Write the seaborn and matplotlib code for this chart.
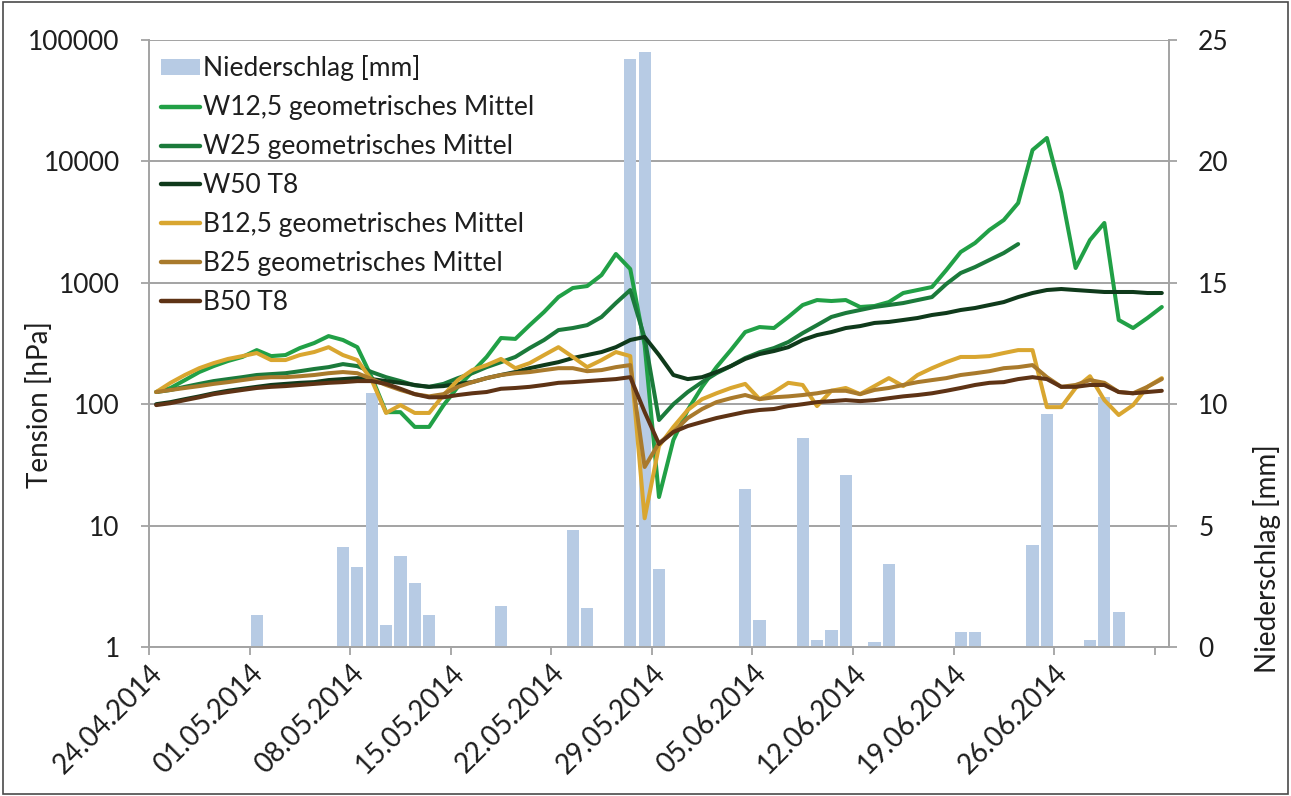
import datetime as dt

import matplotlib
matplotlib.use("Agg")
import matplotlib.pyplot as plt
import numpy as np
import pandas as pd
import seaborn as sns
from matplotlib.lines import Line2D
from matplotlib.patches import Patch, Rectangle
from matplotlib.ticker import FixedLocator, FixedFormatter, NullLocator

# ---------------------------------------------------------------------------
# Daily series, 24.04.2014 - 04.07.2014
# ---------------------------------------------------------------------------
start = dt.date(2014, 4, 24)
dates = [start + dt.timedelta(days=i) for i in range(71)]

# daily precipitation [mm]
niederschlag = [0, 0, 0, 0, 0, 0, 0, 1.3, 0.05, 0,
                0, 0, 0.05, 4.1, 3.3, 10.45, 0.9, 3.75, 2.65, 1.3,
                0.05, 0, 0, 0, 1.7, 0, 0, 0, 0, 4.8,
                1.6, 0, 0, 24.2, 24.5, 3.2, 0, 0, 0, 0,
                0, 6.5, 1.1, 0, 0, 8.6, 0.3, 0.7, 7.1, 0,
                0.2, 3.4, 0, 0, 0, 0, 0.6, 0.6, 0, 0,
                0, 4.2, 9.6, 0, 0.05, 0.3, 10.3, 1.45, 0, 0,
                0]

# soil water tension [hPa]
w12_5 = [126, 136, 158, 184, 206, 227, 245, 279, 249, 254,
         290, 319, 364, 338, 295, 167, 86, 86, 65, 65,
         98, 139, 184, 245, 351, 345, 448, 575, 763, 906,
         940, 1158, 1727, 1298, 307, 17.2, 50.7, 89.6, 139, 202,
         279, 393, 432, 424, 523, 656, 721, 708, 721, 632,
         644, 694, 824, 872, 923, 1274, 1793, 2128, 2723, 3289,
         4541, 12410, 15600, 5495, 1324, 2252, 3110, 494, 424, 513,
         632]

w25 = [126, 131, 139, 147, 155, 161, 167, 174, 177, 180,
       187, 195, 202, 214, 206, 184, 167, 155, 143, 139,
       147, 164, 180, 202, 222, 245, 290, 338, 408, 424,
       448, 523, 681, 872, 351, 74.1, 100, 126, 152, 180,
       206, 240, 268, 290, 325, 385, 448, 523, 564, 597,
       632, 656, 681, 721, 763, 978, 1204, 1348, 1541, 1760,
       2085]

w50 = [100, 104, 110, 116, 123, 129, 134, 139, 144, 147,
       150, 152, 158, 161, 164, 161, 155, 150, 144, 139,
       141, 147, 152, 164, 174, 184, 198, 210, 222, 240,
       254, 269, 295, 338, 358, 254, 174, 161, 167, 184,
       206, 236, 259, 274, 295, 338, 371, 393, 424, 440,
       467, 476, 494, 513, 543, 564, 597, 620, 656, 694,
       763, 824, 872, 889, 872, 856, 840, 840, 840, 824,
       824]

b12_5 = [126, 150, 174, 198, 218, 236, 249, 264, 231, 231,
         254, 269, 295, 254, 231, 158, 84.7, 98.3, 84.7, 84.7,
         119, 158, 191, 210, 236, 198, 218, 254, 295, 245,
         202, 231, 269, 249, 11.5, 45.3, 64.9, 89.6, 110, 123,
         136, 147, 110, 126, 150, 144, 96.5, 129, 136, 121,
         141, 164, 141, 174, 198, 222, 245, 245, 249, 264,
         279, 279, 94.6, 94.6, 136, 170, 108, 81.5, 98.3, 139,
         164]

b25 = [126, 131, 136, 141, 147, 152, 158, 164, 167, 167,
       170, 174, 180, 184, 180, 161, 144, 131, 121, 116,
       121, 139, 152, 164, 174, 180, 184, 191, 198, 198,
       187, 191, 202, 210, 30.4, 47.9, 59.0, 76.9, 91.3, 104,
       112, 119, 110, 114, 116, 119, 123, 129, 129, 121,
       131, 136, 144, 152, 158, 164, 174, 180, 187, 198,
       202, 210, 167, 139, 144, 158, 150, 126, 123, 139,
       161]

b50 = [98.3, 102, 108, 114, 121, 126, 131, 136, 139, 141,
       144, 147, 150, 152, 155, 155, 147, 134, 121, 114,
       114, 119, 123, 126, 134, 136, 139, 144, 150, 152,
       155, 158, 161, 167, 86.3, 47.0, 59.0, 66.1, 71.4, 76.9,
       81.5, 86.3, 89.6, 91.3, 96.5, 100, 104, 106, 108, 106,
       108, 112, 116, 119, 123, 129, 136, 144, 150, 152,
       161, 167, 161, 139, 139, 144, 144, 126, 123, 126,
       129]

series_names = ["W12,5 geometrisches Mittel", "W25 geometrisches Mittel", "W50 T8",
                "B12,5 geometrisches Mittel", "B25 geometrisches Mittel", "B50 T8"]
series_values = [w12_5, w25, w50, b12_5, b25, b50]
series_colors = ["#21A046", "#1B7A3B", "#0F3A1B", "#D9A630", "#A97A2C", "#5E3315"]
bar_label = "Niederschlag [mm]"
bar_color = "#B7CBE4"

tick_dates = dates[0::7]
tick_labels = [d.strftime("%d.%m.%Y") for d in tick_dates[:-1]] + [""]

# ---------------------------------------------------------------------------
# Tidy frames; each day is drawn in the middle of its slot on the date axis
# ---------------------------------------------------------------------------
def day_pos(d):
    return (d - start).days + 0.5

rain_df = pd.DataFrame({"pos": [day_pos(d) for d in dates], "mm": niederschlag})

rows = []
for name, vals in zip(series_names, series_values):
    for d, v in zip(dates, vals):
        rows.append({"pos": day_pos(d), "hPa": v, "Serie": name})
lines_df = pd.DataFrame(rows)

# ---------------------------------------------------------------------------
# Figure
# ---------------------------------------------------------------------------
sns.set_theme(style="white")
plt.rcParams["font.family"] = ["Lato", "DejaVu Sans"]
text_color = "#1E1E1E"
axis_gray = "#A3A3A3"
fs = 19

fig = plt.figure(figsize=(12.91, 7.96), dpi=100)
fig.patch.set_facecolor("white")
ax = fig.add_axes([149 / 1291, 1 - 647 / 796, 1020 / 1291, 607 / 796])
ax_rain = ax.twinx()

# precipitation bars behind, tension lines in front
ax.set_zorder(ax_rain.get_zorder() + 1)
ax.patch.set_visible(False)

sns.barplot(data=rain_df, x="pos", y="mm", native_scale=True, color=bar_color,
            saturation=1, width=0.85, linewidth=0, ax=ax_rain, errorbar=None)

ax.set_yscale("log")
sns.lineplot(data=lines_df, x="pos", y="hPa", hue="Serie", hue_order=series_names,
             palette=dict(zip(series_names, series_colors)), estimator=None,
             linewidth=2.9, legend=False, ax=ax)

# left axis: tension, logarithmic
ax.set_ylim(1, 1e5)
ax.yaxis.set_major_locator(FixedLocator([1, 10, 100, 1000, 10000, 100000]))
ax.yaxis.set_major_formatter(FixedFormatter(["1", "10", "100", "1000", "10000", "100000"]))
ax.yaxis.set_minor_locator(NullLocator())
ax.set_ylabel("Tension [hPa]", fontsize=fs + 1, color=text_color)
ax.yaxis.set_label_coords(-0.094, 0.40)

# right axis: precipitation
ax_rain.set_ylim(0, 25)
ax_rain.set_yticks([0, 5, 10, 15, 20, 25])
ax_rain.set_ylabel("Niederschlag [mm]", fontsize=fs + 1, color=text_color, rotation=90)
ax_rain.yaxis.set_label_coords(1.082, 0.145)
ax_rain.yaxis.label.set_va("top")

# shared date axis
ax.set_xlim(0, 71)
ax.xaxis.set_major_locator(FixedLocator([day_pos(d) - 0.5 for d in tick_dates]))
ax.xaxis.set_major_formatter(FixedFormatter(tick_labels))
ax.set_xlabel("")
ax_rain.set_xlabel("")
for lab in ax.get_xticklabels():
    lab.set_rotation(45)
    lab.set_ha("right")
    lab.set_va("top")
    lab.set_rotation_mode("anchor")

# grid lines on the precipitation axis (they coincide with the decades)
ax_rain.set_axisbelow(True)
ax_rain.yaxis.grid(True, color=axis_gray, linewidth=1.4)
ax_rain.xaxis.grid(False)
ax.grid(False)

for a in (ax, ax_rain):
    for s in a.spines.values():
        s.set_visible(False)
ax.spines["left"].set_visible(True)
ax.spines["bottom"].set_visible(True)
ax_rain.spines["right"].set_visible(True)
for s in (ax.spines["left"], ax.spines["bottom"], ax_rain.spines["right"]):
    s.set_color(axis_gray)
    s.set_linewidth(1.4)

ax.tick_params(axis="y", which="major", direction="out", length=6, width=1.3,
               color=axis_gray, labelsize=fs, labelcolor=text_color, pad=15, left=True)
ax.tick_params(axis="x", which="major", direction="out", length=6, width=1.3,
               color=axis_gray, labelsize=fs + 1, labelcolor=text_color, pad=3, bottom=True)
ax_rain.tick_params(axis="y", which="major", direction="out", length=6, width=1.3,
                    color=axis_gray, labelsize=fs, labelcolor=text_color, pad=15, right=True)

# legend
handles = [Patch(facecolor=bar_color, edgecolor="none")]
handles += [Line2D([0], [0], color=c, linewidth=3.2) for c in series_colors]
labels = [bar_label] + series_names
ax.legend(handles, labels, loc="upper left", bbox_to_anchor=(0.012, 0.975),
          frameon=False, fontsize=fs, handlelength=1.45, handleheight=0.55,
          handletextpad=0.12, labelspacing=0.53, borderaxespad=0, borderpad=0,
          labelcolor=text_color)

# chart border
fig.patches.append(Rectangle((0.002, 0.003), 0.996, 0.994, transform=fig.transFigure,
                             fill=False, edgecolor="#4A4A4A", linewidth=1.2))

fig.savefig("out.png", dpi=100, facecolor="white")
